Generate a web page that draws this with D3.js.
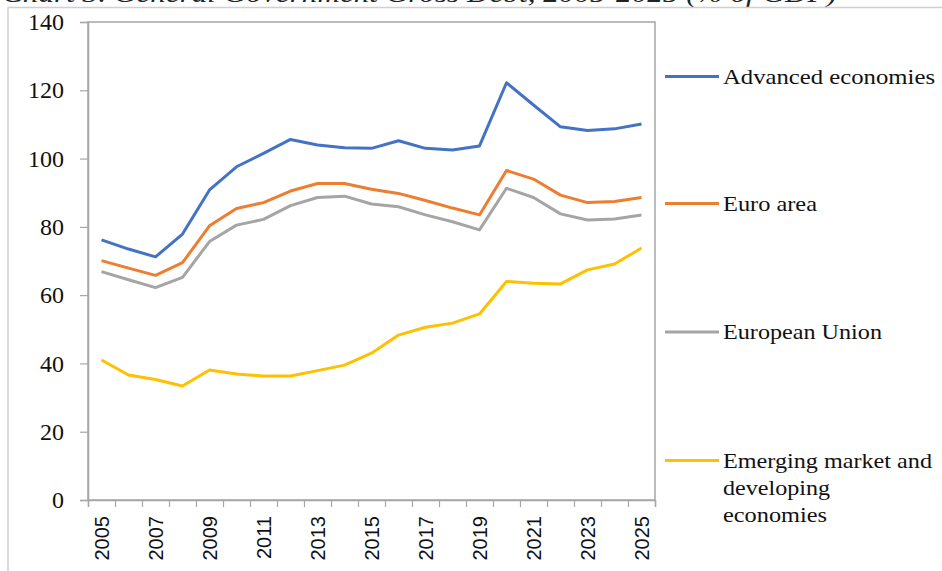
<!DOCTYPE html>
<html>
<head>
<meta charset="utf-8">
<script src="https://cdn.jsdelivr.net/npm/d3@7"></script>
<style>
  html, body { margin: 0; padding: 0; background: #fff; }
  svg { display: block; }
  .serif { font-family: "Liberation Serif", "Times New Roman", Tinos, "DejaVu Serif", serif; }
  .sans { font-family: "Liberation Sans", Arial, Arimo, sans-serif; }
</style>
</head>
<body>
<svg id="chart" width="942" height="571"></svg>
<script>
// General government gross debt, % of GDP
const years = d3.range(2005, 2026);
const yearLabels = ["2005","2007","2009","2011","2013","2015","2017","2019","2021","2023","2025"];
const yTicks = [0, 20, 40, 60, 80, 100, 120, 140];

const advanced = [76.2, 73.5, 71.2, 77.9, 90.8, 97.6, 101.5, 105.6, 104.0, 103.2, 103.0, 105.2, 103.0, 102.5, 103.7, 122.2, 115.7, 109.3, 108.2, 108.7, 110.1];
const euroArea = [70.1, 67.9, 65.8, 69.5, 80.3, 85.4, 87.1, 90.5, 92.7, 92.7, 91.0, 89.8, 87.7, 85.5, 83.5, 96.5, 94.0, 89.3, 87.1, 87.4, 88.6];
const eu       = [66.9, 64.5, 62.2, 65.2, 75.7, 80.5, 82.2, 86.2, 88.6, 89.0, 86.7, 85.9, 83.5, 81.5, 79.1, 91.3, 88.6, 83.8, 82.0, 82.3, 83.5];
const emerging = [41.0, 36.6, 35.3, 33.4, 38.1, 36.9, 36.3, 36.3, 37.9, 39.5, 43.0, 48.3, 50.6, 51.8, 54.5, 64.0, 63.5, 63.3, 67.4, 69.1, 73.8];

const seriesNames = ["Advanced economies", "Euro area", "European Union", "Emerging market and developing economies"];
const seriesValues = [advanced, euroArea, eu, emerging];
const seriesColors = ["#4472C4", "#ED7D31", "#A5A5A5", "#FFC000"];

const svg = d3.select("#chart");
const plot = { left: 88, right: 655, top: 22, bottom: 500 };

// Caption above the chart frame
svg.append("text")
  .attr("class", "serif")
  .attr("x", 2).attr("y", 2)
  .attr("textLength", 835).attr("lengthAdjust", "spacingAndGlyphs")
  .style("font-style", "italic")
  .style("font-size", "25px")
  .attr("fill", "#222")
  .text("Chart 3. General Government Gross Debt, 2005-2025 (% of GDP)");

// Outer chart border
svg.append("rect")
  .attr("x", 8).attr("y", 7.5).attr("width", 960).attr("height", 600)
  .attr("fill", "none").attr("stroke", "#d0d0d0").attr("stroke-width", 1.5);

// Scales
const xEdge = d3.scaleLinear().domain([0, years.length]).range([plot.left, plot.right]);
const xMid = i => xEdge(i + 0.5);
const y = d3.scaleLinear().domain([0, 140]).range([plot.bottom, plot.top]);

// Plot area frame
svg.append("rect")
  .attr("x", plot.left).attr("y", plot.top)
  .attr("width", plot.right - plot.left).attr("height", plot.bottom - plot.top)
  .attr("fill", "none").attr("stroke", "#a6a6a6").attr("stroke-width", 1.5);

// Y axis
const yAxis = svg.append("g")
  .attr("transform", `translate(${plot.left},0)`)
  .call(d3.axisLeft(y).tickValues(yTicks).tickSize(8).tickPadding(16).tickFormat(d3.format("d")));
yAxis.attr("font-family", null).attr("font-size", null);
yAxis.select(".domain").attr("stroke", "#a6a6a6").attr("stroke-width", 1.5);
yAxis.selectAll(".tick line").attr("stroke", "#a6a6a6").attr("stroke-width", 1.2);
yAxis.selectAll(".tick text")
  .attr("class", "serif")
  .style("font-size", "24px")
  .attr("fill", "#111");

// X axis: tick marks between categories
const xAxis = svg.append("g")
  .attr("transform", `translate(0,${plot.bottom})`)
  .call(d3.axisBottom(xEdge).tickValues(d3.range(0, years.length + 1)).tickSize(7).tickFormat(""));
xAxis.select(".domain").attr("stroke", "#a6a6a6").attr("stroke-width", 1.5);
xAxis.selectAll(".tick line").attr("stroke", "#a6a6a6").attr("stroke-width", 1.2);

// X labels, rotated, every other year
const xLabelScale = d3.scaleOrdinal().domain(years.map(String)).range(years.map((d, i) => xMid(i)));
svg.append("g").selectAll("text")
  .data(yearLabels)
  .join("text")
  .attr("class", "sans")
  .attr("transform", d => `translate(${xLabelScale(d) + 7},${plot.bottom + 16}) rotate(-90)`)
  .attr("text-anchor", "end")
  .style("font-size", "20px")
  .attr("fill", "#111")
  .text(d => d);

// Series lines
const line = d3.line().x((d, i) => xMid(i)).y(d => y(d));
seriesValues.forEach((vals, k) => {
  svg.append("path")
    .datum(vals)
    .attr("fill", "none")
    .attr("stroke", seriesColors[k])
    .attr("stroke-width", 3)
    .attr("stroke-linejoin", "round")
    .attr("d", line);
});

// Legend
const legendRows = [
  { lineY: 76.5, lines: [{ t: "Advanced economies", w: 212 }] },
  { lineY: 203.5, lines: [{ t: "Euro area", w: 94 }] },
  { lineY: 332, lines: [{ t: "European Union", w: 159 }] },
  { lineY: 460.5, lines: [{ t: "Emerging market and", w: 209 }, { t: "developing", w: 107 }, { t: "economies", w: 104 }] }
];
legendRows.forEach((row, k) => {
  svg.append("line")
    .attr("x1", 665).attr("x2", 719)
    .attr("y1", row.lineY).attr("y2", row.lineY)
    .attr("stroke", seriesColors[k]).attr("stroke-width", 3);
  row.lines.forEach((ln, j) => {
    svg.append("text")
      .attr("class", "serif")
      .attr("x", 723).attr("y", row.lineY + 7 + j * 27)
      .attr("textLength", ln.w).attr("lengthAdjust", "spacingAndGlyphs")
      .style("font-size", "21px")
      .attr("fill", "#111")
      .text(ln.t);
  });
});
</script>
</body>
</html>
